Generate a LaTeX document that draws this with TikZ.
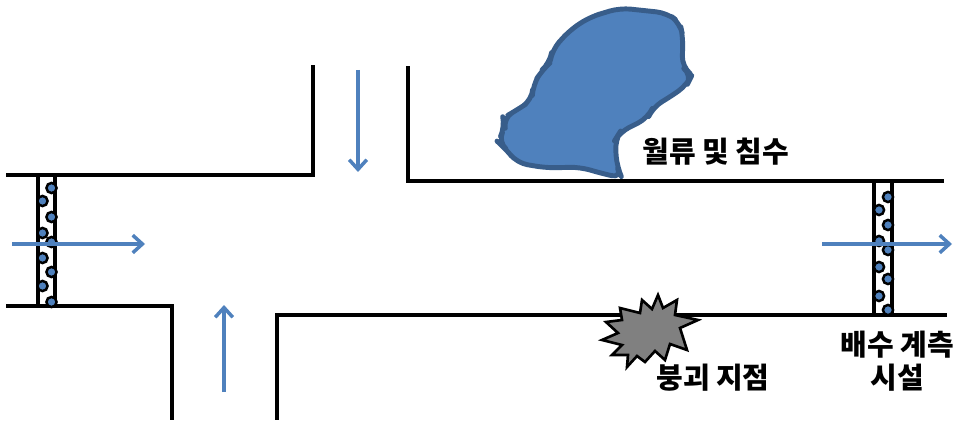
\documentclass[tikz,border=0pt]{standalone}
\usepackage{fontspec}
\setmainfont{Noto Sans CJK KR}
\usetikzlibrary{arrows.meta}
\definecolor{water}{RGB}{79,129,189}
\definecolor{waterline}{RGB}{56,93,138}
\definecolor{rubble}{RGB}{128,128,128}

\begin{document}
\begin{tikzpicture}[
        x=0.02cm, y=-0.02cm,
        road/.style={line width=2.3pt, line cap=rect},
        flow/.style={-{Straight Barb[length=5.5pt, width=10pt, line width=2pt]}, water, line width=2.2pt},
        screen/.style={draw, line width=1.8pt, fill=white},
        pebble/.style={circle, draw, line width=1.4pt, fill=water, inner sep=0pt, minimum size=5.8pt},
        label/.style={font=\bfseries\fontsize{16.5pt}{18.7pt}\selectfont, align=center},
    ]
        \useasboundingbox (0,0) rectangle (960,422);

        % road edges
        \draw[road] (8,175) -- (313,175) -- (313,67);
        \draw[road] (408,68) -- (408,181) -- (942,181);
        \draw[road] (8,306) -- (172,306) -- (172,418);
        \draw[road] (277,418) -- (277,315) -- (945,315);

        % inflow / outflow screens
        \draw[screen] (38,175) rectangle (55,306);
        \draw[screen] (874,181) rectangle (892,315);
        \foreach \y [count=\i] in {188,201,217,233,242,258,272,286,302} {
            \ifodd\i \node[pebble] (pw\i) at (51.5,\y) {};
            \else \node[pebble] (pw\i) at (42.5,\y) {}; \fi
        }
        \foreach \y [count=\i] in {197,210,225,241,250,267,279,296,310} {
            \ifodd\i \node[pebble] (pe\i) at (888,\y) {};
            \else \node[pebble] (pe\i) at (879,\y) {}; \fi
        }

        % flow directions
        \coordinate (inW) at (12,244);
        \coordinate (inWend) at (145,244);
        \coordinate (outE) at (822,244);
        \coordinate (outEend) at (952,244);
        \coordinate (inN) at (358,70);
        \coordinate (inNend) at (358,172);
        \coordinate (inS) at (224,392);
        \coordinate (inSend) at (224,305);
        \draw[flow] (inW) -- (inWend);
        \draw[flow] (outE) -- (outEend);
        \draw[flow] (inN) -- (inNend);
        \draw[flow] (inS) -- (inSend);

        % flooded area
        \draw[fill=water, draw=waterline, line width=2.8pt, line join=round, rounded corners=6pt]
            (552,50) -- (570,30) -- (590,17) -- (620,8) -- (667,13) -- (680,23)
            -- (683,37) -- (682,67) -- (692,75) -- (687,85) -- (670,97)
            -- (653,107) -- (648,118) -- (620,132) -- (615,140) -- (617,167)
            -- (622,178) -- (600,173) -- (580,167) -- (547,168) -- (517,163)
            -- (505,148) -- (498,142) -- (505,127) -- (503,118) -- (517,110)
            -- (532,100) -- (533,85) -- (542,70) -- (550,63) -- cycle;

        % collapse point
        \draw[fill=rubble, line width=1.5pt, line join=miter]
            (620,308) -- (640,313) -- (642,300) -- (652,309) -- (658,295)
            -- (663,308) -- (677,300) -- (675,315) -- (698,320) -- (680,328)
            -- (687,350) -- (670,344) -- (665,360) -- (655,351) -- (645,362)
            -- (637,356) -- (627,367) -- (628,355) -- (612,355) -- (622,345)
            -- (602,340) -- (618,333) -- (606,322) -- (622,320) -- cycle;

        % labels
        \node[label] (flood) at (716,152) {월류 및 침수};
        \node[label] (collapse) at (713,378) {붕괴 지점};
        \node[label] (gauge) at (897,361) {배수 계측\\시설};
    \end{tikzpicture}
\end{document}
